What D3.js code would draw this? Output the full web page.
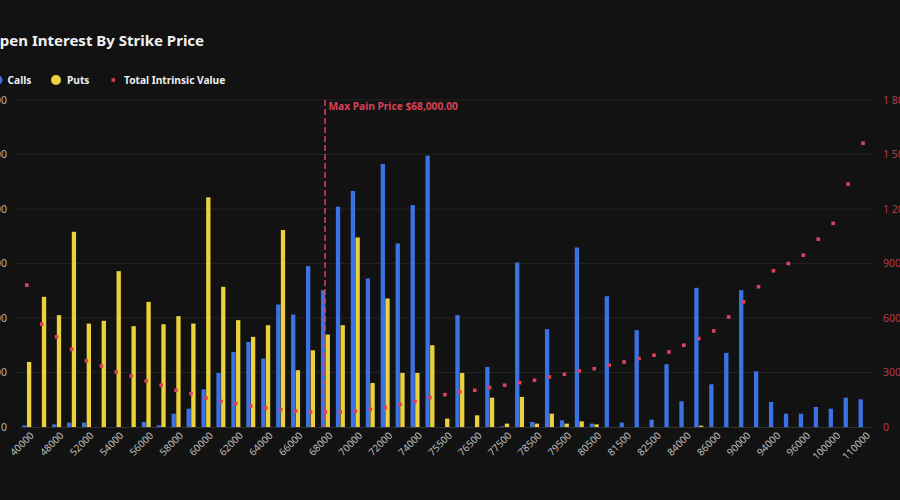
<!DOCTYPE html>
<html>
<head>
<meta charset="utf-8">
<script src="https://cdn.jsdelivr.net/npm/d3@7"></script>
<style>
  html, body { margin: 0; padding: 0; background: #121212; }
  svg { display: block; font-family: 'Noto Sans', sans-serif; }
</style>
</head>
<body>
<svg id="chart" width="900" height="500"></svg>
<script>
var strikes = ['40000', '45000', '48000', '50000', '52000', '53000', '54000', '55000', '56000', '57000',
               '58000', '59000', '60000', '61000', '62000', '63000', '64000', '65000', '66000', '67000',
               '68000', '69000', '70000', '71000', '72000', '73000', '74000', '75000', '75500', '76000',
               '76500', '77000', '77500', '78000', '78500', '79000', '79500', '80000', '80500', '81000',
               '81500', '82000', '82500', '83000', '84000', '85000', '86000', '88000', '90000', '92000',
               '94000', '95000', '96000', '98000', '100000', '105000', '110000'];

var calls = [15, 0, 24, 40, 40, 0, 0, 0, 46, 15,
             122, 168, 346, 496, 689, 781, 628, 1124, 1032, 1476,
             1255, 2021, 2165, 1363, 2413, 1684, 2036, 2489, 0, 1026,
             0, 551, 6, 1509, 46, 897, 61, 1647, 31, 1200,
             40, 888, 67, 576, 236, 1277, 392, 680, 1255, 511,
             230, 122, 122, 184, 168, 269, 254];

var puts = [597, 1194, 1026, 1791, 949, 974, 1430, 925, 1148, 943,
            1017, 949, 2107, 1286, 980, 827, 934, 1807, 521, 704,
            848, 934, 1739, 404, 1179, 496, 496, 750, 77, 496,
            107, 269, 31, 276, 31, 122, 31, 52, 24, 0,
            0, 0, 0, 0, 0, 12, 0, 0, 0, 0,
            0, 0, 0, 0, 0, 0, 0];

var intrinsic = [781, 566, 496, 428, 364, 336, 303, 281, 253, 230,
                 202, 184, 160, 141, 129, 116, 105, 96, 88, 83,
                 83, 83, 88, 97, 107, 125, 141, 162, 178, 193,
                 202, 217, 230, 244, 257, 276, 290, 309, 321, 340,
                 358, 377, 395, 413, 450, 487, 529, 606, 689, 772,
                 860, 900, 946, 1034, 1121, 1337, 1562];

var leftTicks = [0, 500, 1000, 1500, 2000, 2500, 3000];
var rightTicks = [0, 300, 600, 900, 1200, 1500, 1800];
var maxPainStrike = '68000';

var svg = d3.select('#chart');
var fmt = v => d3.format(',')(v).replace(/,/g, ' ');

var x = d3.scaleBand()
          .domain(strikes)
          .range([19.3, 870.5]);

var yLeft = d3.scaleLinear()
              .domain([0, 3000])
              .range([427, 100]);

var yRight = d3.scaleLinear()
               .domain([0, 1800])
               .range([427, 100]);

// title
svg.append('text')
   .attr('x', -12)
   .attr('y', 45.5)
   .attr('fill', '#f0f0f0')
   .style('font-size', '15px')
   .style('font-weight', 'bold')
   .text('Open Interest By Strike Price');

// legend
var legend = svg.append('g')
                .attr('transform', 'translate(0,80)')
                .style('font-size', '10.2px')
                .style('font-weight', 'bold');

legend.append('circle').attr('cx', -2.5).attr('cy', 0).attr('r', 5).attr('fill', '#3b73e6');
legend.append('text').attr('x', 7.5).attr('y', 3.7).attr('fill', '#eeeeee').text('Calls');
legend.append('circle').attr('cx', 56).attr('cy', 0).attr('r', 5).attr('fill', '#ebd23c');
legend.append('text').attr('x', 67).attr('y', 3.7).attr('fill', '#eeeeee').text('Puts');
legend.append('rect').attr('x', 111.5).attr('y', -1.8).attr('width', 3.6).attr('height', 3.6).attr('fill', '#c93a50');
legend.append('text').attr('x', 124).attr('y', 3.7).attr('fill', '#eeeeee').text('Total Intrinsic Value');

// grid
svg.append('g')
   .selectAll('line')
   .data(leftTicks.slice(1))
   .enter()
   .append('line')
   .attr('x1', 17)
   .attr('x2', 872)
   .attr('y1', d => yLeft(d))
   .attr('y2', d => yLeft(d))
   .attr('stroke', '#222222')
   .attr('stroke-width', 1);

// left axis
var leftAxis = svg.append('g')
   .attr('transform', 'translate(19,0)')
   .call(d3.axisLeft(yLeft).tickValues(leftTicks).tickFormat(fmt).tickSize(0).tickPadding(12));
leftAxis.select('.domain').remove();
leftAxis.selectAll('text')
        .attr('fill', '#b5b5b5')
        .style('font-size', '10.5px')
        .style('font-family', 'Noto Sans, sans-serif');

// right axis
var rightAxis = svg.append('g')
   .attr('transform', 'translate(871,0)')
   .call(d3.axisRight(yRight).tickValues(rightTicks).tickFormat(fmt).tickSize(0).tickPadding(12));
rightAxis.select('.domain').remove();
rightAxis.selectAll('text')
         .attr('fill', '#b8394c')
         .style('font-size', '10.5px')
         .style('font-family', 'Noto Sans, sans-serif');

// bars
var barW = 4.3;
var step = x.bandwidth();

svg.selectAll('.call-bars')
   .data(strikes)
   .enter()
   .append('rect')
   .attr('class', 'call-bars')
   .attr('x', d => x(d) + step / 2 - barW - 0.2)
   .attr('y', (d, i) => yLeft(calls[i]))
   .attr('width', barW)
   .attr('height', (d, i) => 427 - yLeft(calls[i]))
   .attr('fill', '#3b73e6');

svg.selectAll('.put-bars')
   .data(strikes)
   .enter()
   .append('rect')
   .attr('class', 'put-bars')
   .attr('x', d => x(d) + step / 2 + 0.2)
   .attr('y', (d, i) => yLeft(puts[i]))
   .attr('width', barW)
   .attr('height', (d, i) => 427 - yLeft(puts[i]))
   .attr('fill', '#ebd23c');

// x axis
var xAxis = svg.append('g')
   .attr('transform', 'translate(0,427)')
   .call(d3.axisBottom(x).tickValues(strikes.filter((d, i) => i % 2 === 0)).tickSize(0).tickPadding(6));
xAxis.select('.domain').attr('stroke', '#333333');
xAxis.selectAll('text')
     .attr('fill', '#bdbdbd')
     .style('font-size', '10px')
     .style('font-family', 'Noto Sans, sans-serif')
     .attr('text-anchor', 'end')
     .attr('transform', 'rotate(-45)')
     .attr('dx', '-0.1em')
     .attr('dy', '0.6em');

// intrinsic value points
svg.selectAll('.iv')
   .data(strikes)
   .enter()
   .append('rect')
   .attr('class', 'iv')
   .attr('x', d => x(d) + step / 2 - 1.8)
   .attr('y', (d, i) => yRight(intrinsic[i]) - 1.8)
   .attr('width', 3.6)
   .attr('height', 3.6)
   .attr('fill', '#d9435a');

// max pain line
var mpX = Math.round(x(maxPainStrike) + step / 2);
svg.append('line')
   .attr('x1', mpX)
   .attr('x2', mpX)
   .attr('y1', 100)
   .attr('y2', 427)
   .attr('stroke', '#e0435c')
   .attr('stroke-width', 1.5)
   .attr('stroke-dasharray', '6,3');

svg.append('text')
   .attr('x', mpX + 3.5)
   .attr('y', 109.5)
   .attr('fill', '#d9435a')
   .style('font-size', '10.2px')
   .style('font-weight', 'bold')
   .text('Max Pain Price $68,000.00');
</script>
</body>
</html>
